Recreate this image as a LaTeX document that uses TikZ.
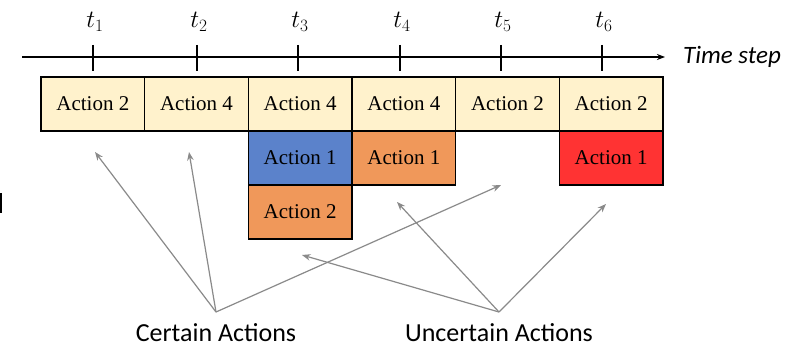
\documentclass[tikz,border=0pt]{standalone}
\usepackage{fontspec}
\setmainfont{Liberation Serif}
\newfontfamily\labelfont{Carlito}
\usetikzlibrary{arrows.meta}
\definecolor{certainfill}{HTML}{FFF2CC}
\definecolor{bluefill}{HTML}{5B82CB}
\definecolor{orangefill}{HTML}{F0985A}
\definecolor{redfill}{HTML}{FF3333}
\definecolor{pointer}{HTML}{8A8A8A}
\tikzset{
  x=1pt, y=1pt,
  actbox/.style={draw=black, line width=1.2pt, minimum width=103.67pt,
    minimum height=54pt, inner sep=0pt, font=\fontsize{21}{24}\selectfont},
  tickmark/.style={line width=1.4pt},
  ticklabel/.style={font=\fontsize{26}{28}\selectfont, inner sep=0pt},
  pointerarrow/.style={draw=pointer, line width=1.2pt,
    -{Stealth[length=8.5pt,width=6.5pt]}},
  caption/.style={font=\labelfont\fontsize{26}{28}\selectfont, inner sep=0pt, anchor=base}
}
\begin{document}
\begin{tikzpicture}
\useasboundingbox (0,0) rectangle (798,-345);
\fill[white] (0,0) rectangle (798,-345);
% small mark at the left edge
\fill[black] (0,-193) rectangle (1.6,-213);

% time axis
\coordinate (axstart) at (22,-57);
\coordinate (axend) at (665,-57);
\draw[line width=1.4pt, -{Stealth[length=8pt,width=6pt]}] (axstart) -- (axend);
\node[anchor=west, font=\labelfont\itshape\fontsize{25}{28}\selectfont, inner sep=0pt] (tslabel) at (683,-57) {Time step};

% ticks and their labels
\foreach \i/\x in {1/93,2/197,3/298,4/400,5/501,6/602}{
  \coordinate (tk\i a) at (\x,-45);
  \coordinate (tk\i b) at (\x,-71);
  \draw[tickmark] (tk\i a) -- (tk\i b);
  \node[ticklabel, anchor=base] (tl\i) at (\x+2,-28) {$t_{\i}$};
}

% certain actions (first row)
\node[actbox, fill=certainfill] (c1) at (92.83,-104) {Action 2};
\node[actbox, fill=certainfill] (c2) at (196.5,-104) {Action 4};
\node[actbox, fill=certainfill] (c3) at (300.17,-104) {Action 4};
\node[actbox, fill=certainfill] (c4) at (403.83,-104) {Action 4};
\node[actbox, fill=certainfill] (c5) at (507.5,-104) {Action 2};
\node[actbox, fill=certainfill] (c6) at (611.17,-104) {Action 2};

% uncertain actions
\node[actbox, fill=bluefill] (u3a) at (300.17,-158) {Action 1};
\node[actbox, fill=orangefill] (u3b) at (300.17,-212) {Action 2};
\node[actbox, fill=orangefill] (u4a) at (403.83,-158) {Action 1};
\node[actbox, fill=redfill] (u6a) at (611.17,-158) {Action 1};

% captions and pointers
\node[caption] (certain) at (216,-341) {Certain Actions};
\node[caption] (uncertain) at (499,-341) {Uncertain Actions};
\coordinate (co) at (216,-312);
\coordinate (uo) at (499,-312);
\coordinate (cp1) at (95,-152);
\coordinate (cp2) at (189,-152);
\coordinate (cp3) at (501,-185);
\coordinate (up1) at (302,-255);
\coordinate (up2) at (397,-202);
\coordinate (up3) at (606,-204);
\draw[pointerarrow] (co) -- (cp1);
\draw[pointerarrow] (co) -- (cp2);
\draw[pointerarrow] (co) -- (cp3);
\draw[pointerarrow] (uo) -- (up1);
\draw[pointerarrow] (uo) -- (up2);
\draw[pointerarrow] (uo) -- (up3);
\end{tikzpicture}
\end{document}
